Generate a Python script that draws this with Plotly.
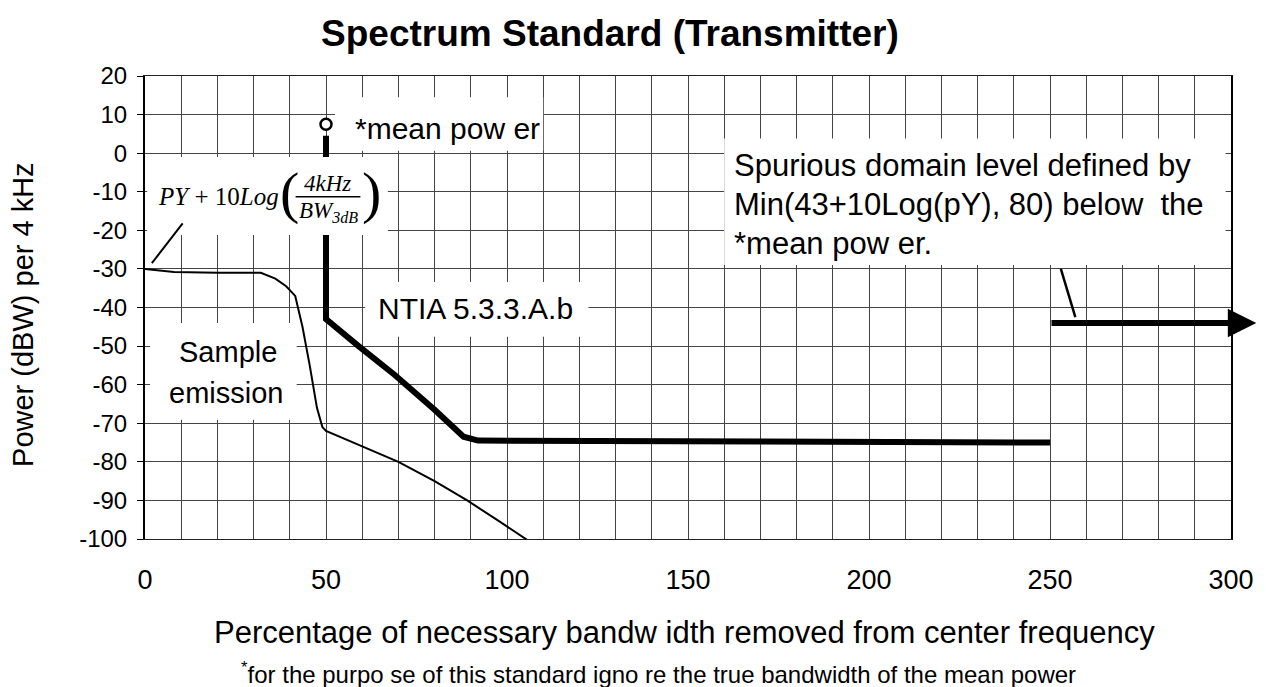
import plotly.graph_objects as go

# ---------------- data ----------------
title_text = "Spectrum Standard (Transmitter)"
y_axis_title = "Power (dBW) per 4 kHz"
x_axis_title = "Percentage of necessary bandw idth removed from center frequency"
footnote_text = "<sup>*</sup>for the purpo se of this standard igno re the true bandwidth of the mean power"

x_tick_vals = [0, 50, 100, 150, 200, 250, 300]
x_tick_text = ["0", "50", "100", "150", "200", "250", "300"]
y_tick_vals = [-100, -90, -80, -70, -60, -50, -40, -30, -20, -10, 0, 10, 20]
y_tick_text = ["-100", "-90", "-80", "-70", "-60", "-50", "-40", "-30", "-20", "-10", "0", "10", "20"]

sample_x = [0, 2, 8, 20, 32, 36, 39, 41.5, 43.5, 45.5, 47.5, 49, 50, 55, 60, 70, 80, 89, 98, 110]
sample_y = [-30, -30.2, -30.8, -31, -31, -32.5, -34.5, -37, -45, -55, -66, -71, -72, -74, -76, -80, -85, -90, -95.5, -103]

ntia_x = [50, 50, 59, 69, 80, 85, 88, 92, 250]
ntia_y = [4.5, -43, -50, -57.5, -66.5, -71, -73.5, -74.5, -75]

mean_power_x = [50]
mean_power_y = [7.5]

spurious_x = [250, 307]
spurious_y = [-44, -44]

FONT = "Liberation Sans, Arial, sans-serif"
SERIF = "Liberation Serif, Times New Roman, serif"
GRID = "#444444"

fig = go.Figure()

fig.add_trace(go.Scatter(x=sample_x, y=sample_y, mode="lines",
                         line=dict(color="black", width=2), showlegend=False,
                         name="Sample emission"))
fig.add_trace(go.Scatter(x=ntia_x, y=ntia_y, mode="lines",
                         line=dict(color="black", width=6), showlegend=False,
                         name="NTIA 5.3.3.A.b"))
fig.add_trace(go.Scatter(x=mean_power_x, y=mean_power_y, mode="markers",
                         marker=dict(symbol="circle", size=11, color="white",
                                     line=dict(color="black", width=2.5)),
                         showlegend=False, name="mean power"))

# white boxes behind labels
boxes = [
    (52.5, 110, 0.6, 14.5),       # *mean power
    (0.6, 67.1, -21.2, -1.0),     # formula
    (160, 298.5, -29, 3.8),       # spurious text
    (60.8, 122.5, -47.6, -33.4),  # NTIA label
    (1.4, 41.9, -69.1, -44),      # sample emission
]
for x0, x1, y0, y1 in boxes:
    fig.add_shape(type="rect", xref="x", yref="y", x0=x0, x1=x1, y0=y0, y1=y1,
                  fillcolor="white", line=dict(width=0), layer="above")

# fraction bar
fig.add_shape(type="line", xref="x", yref="y", x0=41.6, x1=59.5, y0=-11.3, y1=-11.3,
              line=dict(color="black", width=1.5), layer="above")
# pointer lines
fig.add_shape(type="line", xref="x", yref="y", x0=1.9, y0=-28.5, x1=10.4, y1=-18.2,
              line=dict(color="black", width=2), layer="above")
fig.add_shape(type="line", xref="x", yref="y", x0=253, y0=-30, x1=257, y1=-42.5,
              line=dict(color="black", width=2.5), layer="above")

ann = []
def txt(text, x, y, size=29, xanchor="left", family=FONT, xref="x", yref="y", **kw):
    ann.append(dict(text=text, x=x, y=y, xref=xref, yref=yref, showarrow=False,
                    xanchor=xanchor, yanchor="middle",
                    font=dict(family=family, size=size, color="black"), **kw))

txt("*mean pow er", 57.5, 6.5, size=30)
txt("Spurious domain level defined by", 162.2, -3.1, size=31)
txt("Min(43+10Log(pY), 80) below  the", 162.2, -13.4, size=31)
txt("*mean pow er.", 162.2, -23.3, size=31)
txt("NTIA 5.3.3.A.b", 63.8, -40.3, size=30)
txt("Sample", 23, -51.5, size=29, xanchor="center")
txt("emission", 22.5, -62.1, size=29, xanchor="center")

# formula
txt("<i>PY</i> + 10<i>Log</i>", 3.0, -11.3, size=25, family=SERIF)
txt("(", 39.8, -10.2, size=58, xanchor="center", family=SERIF)
txt(")", 62.5, -10.2, size=58, xanchor="center", family=SERIF)
txt("<i>4kHz</i>", 50.4, -7.9, size=23, xanchor="center", family=SERIF)
txt("<i>BW<sub>3dB</sub></i>", 41.9, -15.3, size=23, family=SERIF)

# axis titles & footnote
txt(y_axis_title, -0.1123, 0.484, size=29, xanchor="center", xref="paper", yref="paper",
    textangle=-90)
txt(x_axis_title, 0.497, -0.203, size=31, xanchor="center", xref="paper", yref="paper")
txt(footnote_text, 0.473, -0.289, size=24, xanchor="center", xref="paper", yref="paper")

# spurious arrow
ann.append(dict(x=spurious_x[1], y=spurious_y[1], ax=spurious_x[0], ay=spurious_y[0],
                xref="x", yref="y", axref="x", ayref="y", text="", showarrow=True,
                arrowhead=2, arrowsize=0.95, arrowwidth=6, arrowcolor="black", standoff=0,
                startstandoff=0))

# page body has an 8px margin: size the figure so it fills the 1266x687 window
fig.update_layout(
    width=1258, height=679,
    margin=dict(l=137, r=26, t=68, b=148),
    paper_bgcolor="white", plot_bgcolor="white",
    title=dict(text="<b>" + title_text + "</b>", x=0.4785, y=0.963, xref="container",
               yref="container", xanchor="center", yanchor="middle",
               font=dict(family=FONT, size=37, color="black")),
    annotations=ann,
    font=dict(family=FONT, color="black"),
)
fig.update_xaxes(range=[0, 300], tickvals=x_tick_vals, ticktext=x_tick_text,
                 showgrid=True, gridcolor=GRID, gridwidth=1,
                 minor=dict(dtick=10, showgrid=True, gridcolor=GRID, gridwidth=1),
                 ticks="", ticklabelstandoff=17, tickfont=dict(size=27, family=FONT),
                 showline=True, linecolor="#222", linewidth=1, mirror=True, zeroline=False)
fig.update_yaxes(range=[-100, 20], tickvals=y_tick_vals, ticktext=y_tick_text,
                 showgrid=True, gridcolor=GRID, gridwidth=1, ticks="outside", ticklen=6,
                 tickcolor="black", ticklabelstandoff=5, tickfont=dict(size=24, family=FONT),
                 showline=True, linecolor="black", linewidth=2, mirror=True, zeroline=False)

fig.write_html("out.html")
